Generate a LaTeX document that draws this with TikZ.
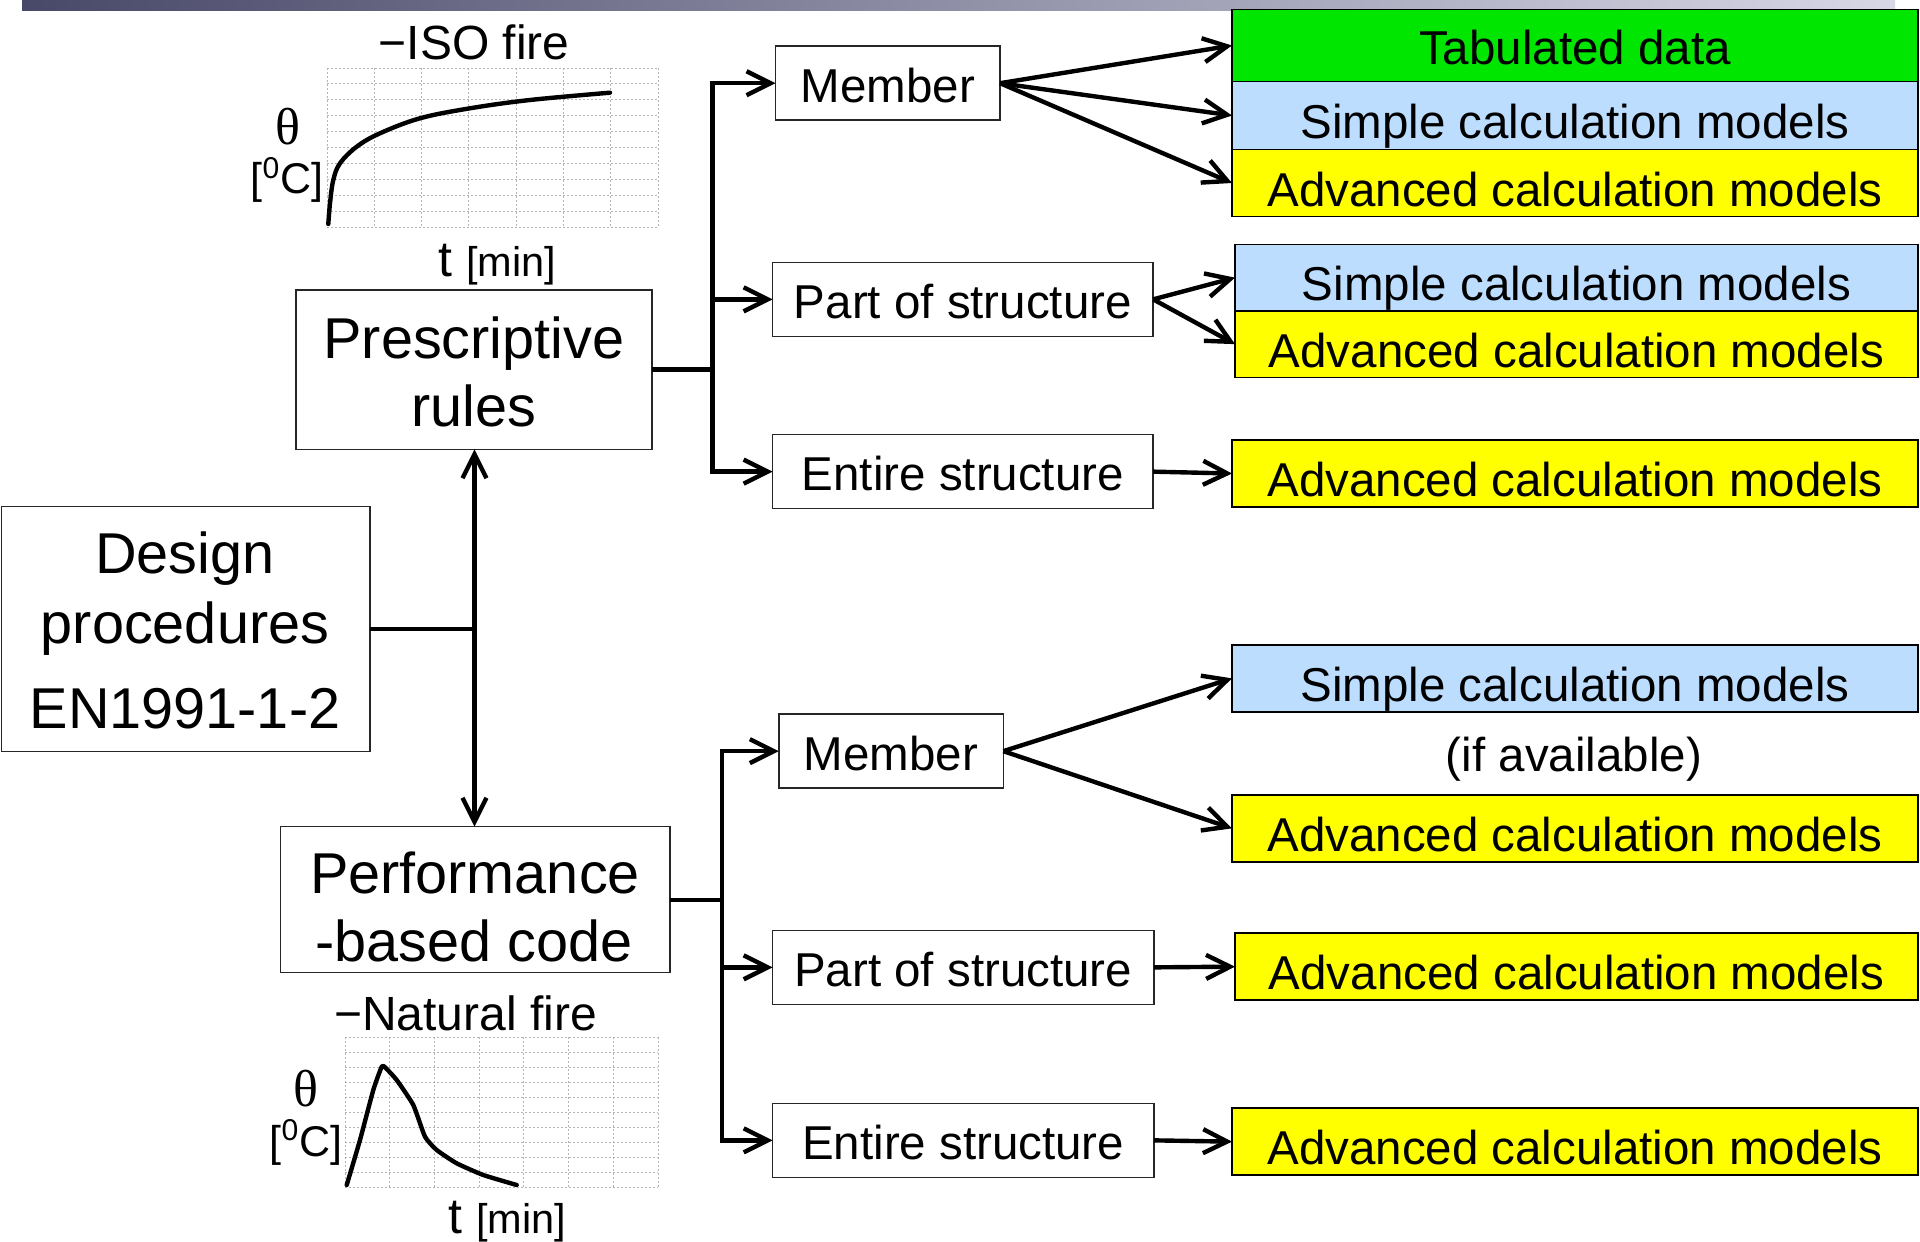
\documentclass[tikz,border=0pt]{standalone}
\usepackage{fontspec}
\setmainfont{Liberation Sans}
\newfontfamily\thetaf{Liberation Serif}
\usetikzlibrary{arrows.meta,calc}
\definecolor{tabgreen}{RGB}{0,230,0}
\definecolor{simpleblue}{RGB}{189,221,255}
\definecolor{advyellow}{RGB}{255,255,0}
\definecolor{bardark}{RGB}{72,72,104}
\definecolor{barmid}{RGB}{140,140,165}
\definecolor{barlight}{RGB}{215,215,230}
\definecolor{gridc}{RGB}{180,180,180}
\begin{document}
\begin{tikzpicture}[x=0.5pt,y=-0.5pt,
  wbox/.style={draw=black!85, line width=0.75pt, fill=white, inner sep=0pt, outer sep=0pt,
     minimum height=37pt, font=\fontsize{23.75}{28}\selectfont, text height=19pt, text depth=0pt},
  cbox/.style={draw=black, line width=0.75pt, inner sep=0pt, outer sep=0pt,
     minimum width=343pt, minimum height=33.5pt, font=\fontsize{23.75}{28}\selectfont,
     text height=23pt, text depth=0pt},
  bbox/.style={draw=black!85, line width=0.75pt, inner sep=0pt, outer sep=0pt},
  bigtxt/.style={anchor=base, inner sep=0pt, font=\fontsize{28.8}{34}\selectfont},
  conn/.style={line width=2.2pt},
  bus/.style={line width=2.2pt, line cap=rect},
  arr/.style={line width=2.2pt, -{Straight Barb[length=12pt,width=12pt]}},
  gridline/.style={gridc, line width=0.4pt, dash pattern=on 1.2pt off 0.8pt},
  curve/.style={line width=2.2pt, line cap=round, line join=round}
]
\useasboundingbox (0,0) rectangle (1920,1241);
% top bar
\shade[left color=bardark, middle color=barmid, right color=barlight] (22,0) rectangle (1895,11);

% ISO fire graph
\foreach \i in {0,...,7} \draw[gridline] ({327+\i*47.29},68) -- ({327+\i*47.29},227);
\foreach \j in {0,...,10} \draw[gridline] (327,{68+\j*15.9}) -- (658,{68+\j*15.9});
\draw[curve] plot[smooth, tension=0.6] coordinates {(328.3,224) (330,203.3) (333.3,180) (340,163.3) (356.7,146.7) (380,133.3) (420,118.3) (470,108.3) (530,100) (610,92.7)};
\node[anchor=base, inner sep=0pt, font=\fontsize{24}{28}\selectfont] (isot) at (474,60) {−ISO fire};
\node[anchor=base, inner sep=0pt, font=\thetaf\fontsize{26}{30}\selectfont] (isoth) at (288,145) {θ};
\node[anchor=base, inner sep=0pt, font=\fontsize{21.5}{26}\selectfont] (isoc) at (287,194) {[\textsuperscript{0}C]};
\node[anchor=base west, inner sep=0pt] (isox) at (438,277) {\fontsize{25}{30}\selectfont t \fontsize{20.75}{25}\selectfont[min]};

% Natural fire graph
\foreach \i in {0,...,7} \draw[gridline] ({345+\i*44.71},1037) -- ({345+\i*44.71},1187);
\foreach \j in {0,...,10} \draw[gridline] (345,{1037+\j*15}) -- (658,{1037+\j*15});
\draw[curve] plot[smooth, tension=0.3] coordinates {(346.7,1185) (360,1140) (373.3,1090) (381.7,1066.7) (385,1067.3) (396.7,1080) (413.3,1105) (425,1136.7) (436.7,1150) (456.7,1163.3) (483.3,1175) (516.7,1185)};
\node[anchor=base, inner sep=0pt, font=\fontsize{24}{28}\selectfont] (natt) at (465.5,1030) {−Natural fire};
\node[anchor=base, inner sep=0pt, font=\thetaf\fontsize{26}{30}\selectfont] (natth) at (305.5,1106) {θ};
\node[anchor=base, inner sep=0pt, font=\fontsize{21.5}{26}\selectfont] (natc) at (306,1156) {[\textsuperscript{0}C]};
\node[anchor=base west, inner sep=0pt] (natx) at (448,1233) {\fontsize{25}{30}\selectfont t \fontsize{20.75}{25}\selectfont[min]};

% main boxes
\node[bbox, minimum width=178pt, minimum height=79.65pt] (pres) at (474,369.65) {};
\node[bigtxt] (presA) at (474,358.3) {Prescriptive};
\node[bigtxt] (presB) at (474,426.7) {rules};
\node[bbox, minimum width=184.25pt, minimum height=122.5pt] (design) at (185.75,629.2) {};
\node[bigtxt] (desA) at (185,573.3) {Design};
\node[bigtxt] (desB) at (185,643.3) {procedures};
\node[bigtxt] (desC) at (185,728.3) {EN1991-1-2};
\node[bbox, minimum width=194.65pt, minimum height=73pt] (perf) at (475.35,899.7) {};
\node[bigtxt] (perfA) at (475,893.3) {Performance};
\node[bigtxt] (perfB) at (474,961.7) {-based code};

% white boxes
\node[wbox, minimum width=112.3pt] (m1) at (887.75,83.2) {Member};
\node[wbox, minimum width=190.3pt] (p1) at (962.85,299.35) {Part of structure};
\node[wbox, minimum width=190.3pt] (e1) at (962.85,471.65) {Entire structure};
\node[wbox, minimum width=112.3pt] (m2) at (891.05,751.15) {Member};
\node[wbox, minimum width=190.6pt] (p2) at (963.2,967.35) {Part of structure};
\node[wbox, minimum width=190.6pt] (e2) at (963.2,1140.35) {Entire structure};

% coloured boxes
\node[cbox, fill=tabgreen, minimum height=36.2pt, text height=19.5pt] (tab) at (1575,45.5) {Tabulated data};
\node[cbox, fill=simpleblue, minimum height=33.8pt] (s1) at (1575,115.5) {Simple calculation models};
\node[cbox, fill=advyellow, minimum height=33.7pt] (a1) at (1575,183) {Advanced calculation models};
\node[cbox, fill=simpleblue, minimum width=341.5pt, minimum height=33.35pt] (s2) at (1576.5,277.65) {Simple calculation models};
\node[cbox, fill=advyellow, minimum width=341.5pt, minimum height=33.15pt] (a2) at (1576.5,344.15) {Advanced calculation models};
\node[cbox, fill=advyellow] (a3) at (1575,473.5) {Advanced calculation models};
\node[cbox, fill=simpleblue] (s4) at (1575,678.35) {Simple calculation models};
\node[anchor=base, inner sep=0pt, font=\fontsize{23.75}{28}\selectfont] (ifav) at (1574,771.7) {(if available)};
\node[cbox, fill=advyellow] (a4) at (1575,828.35) {Advanced calculation models};
\node[cbox, fill=advyellow, minimum width=341.5pt] (a5) at (1576.5,966.65) {Advanced calculation models};
\node[cbox, fill=advyellow] (a6) at (1575,1141.65) {Advanced calculation models};

% design connectors
\coordinate (j0) at (474.5,629.2);
\draw[conn] (design.east) -- (j0);
\draw[arr] (j0) -- (j0 |- pres.south);
\draw[arr] (j0) -- (j0 |- perf.north);

% prescriptive branch
\coordinate (b1) at (712.5,369.65);
\draw[conn] (pres.east) -- (b1);
\draw[bus] (b1 |- m1.west) -- (b1 |- e1.west);
\draw[arr] (b1 |- m1.west) -- (m1.west);
\draw[arr] (b1 |- p1.west) -- (p1.west);
\draw[arr] (b1 |- e1.west) -- (e1.west);
\draw[arr] (m1.east) -- (tab.west);
\draw[arr] (m1.east) -- (s1.west);
\draw[arr] (m1.east) -- (a1.west);
\draw[arr] (p1.east) -- (s2.west);
\draw[arr] (p1.east) -- (a2.west);
\draw[arr] (e1.east) -- (a3.west);

% performance branch
\coordinate (b2) at (722,899.7);
\draw[conn] (perf.east) -- (b2);
\draw[bus] (b2 |- m2.west) -- (b2 |- e2.west);
\draw[arr] (b2 |- m2.west) -- (m2.west);
\draw[arr] (b2 |- p2.west) -- (p2.west);
\draw[arr] (b2 |- e2.west) -- (e2.west);
\draw[arr] (m2.east) -- (s4.west);
\draw[arr] (m2.east) -- (a4.west);
\draw[arr] (p2.east) -- (a5.west);
\draw[arr] (e2.east) -- (a6.west);
\end{tikzpicture}
\end{document}
